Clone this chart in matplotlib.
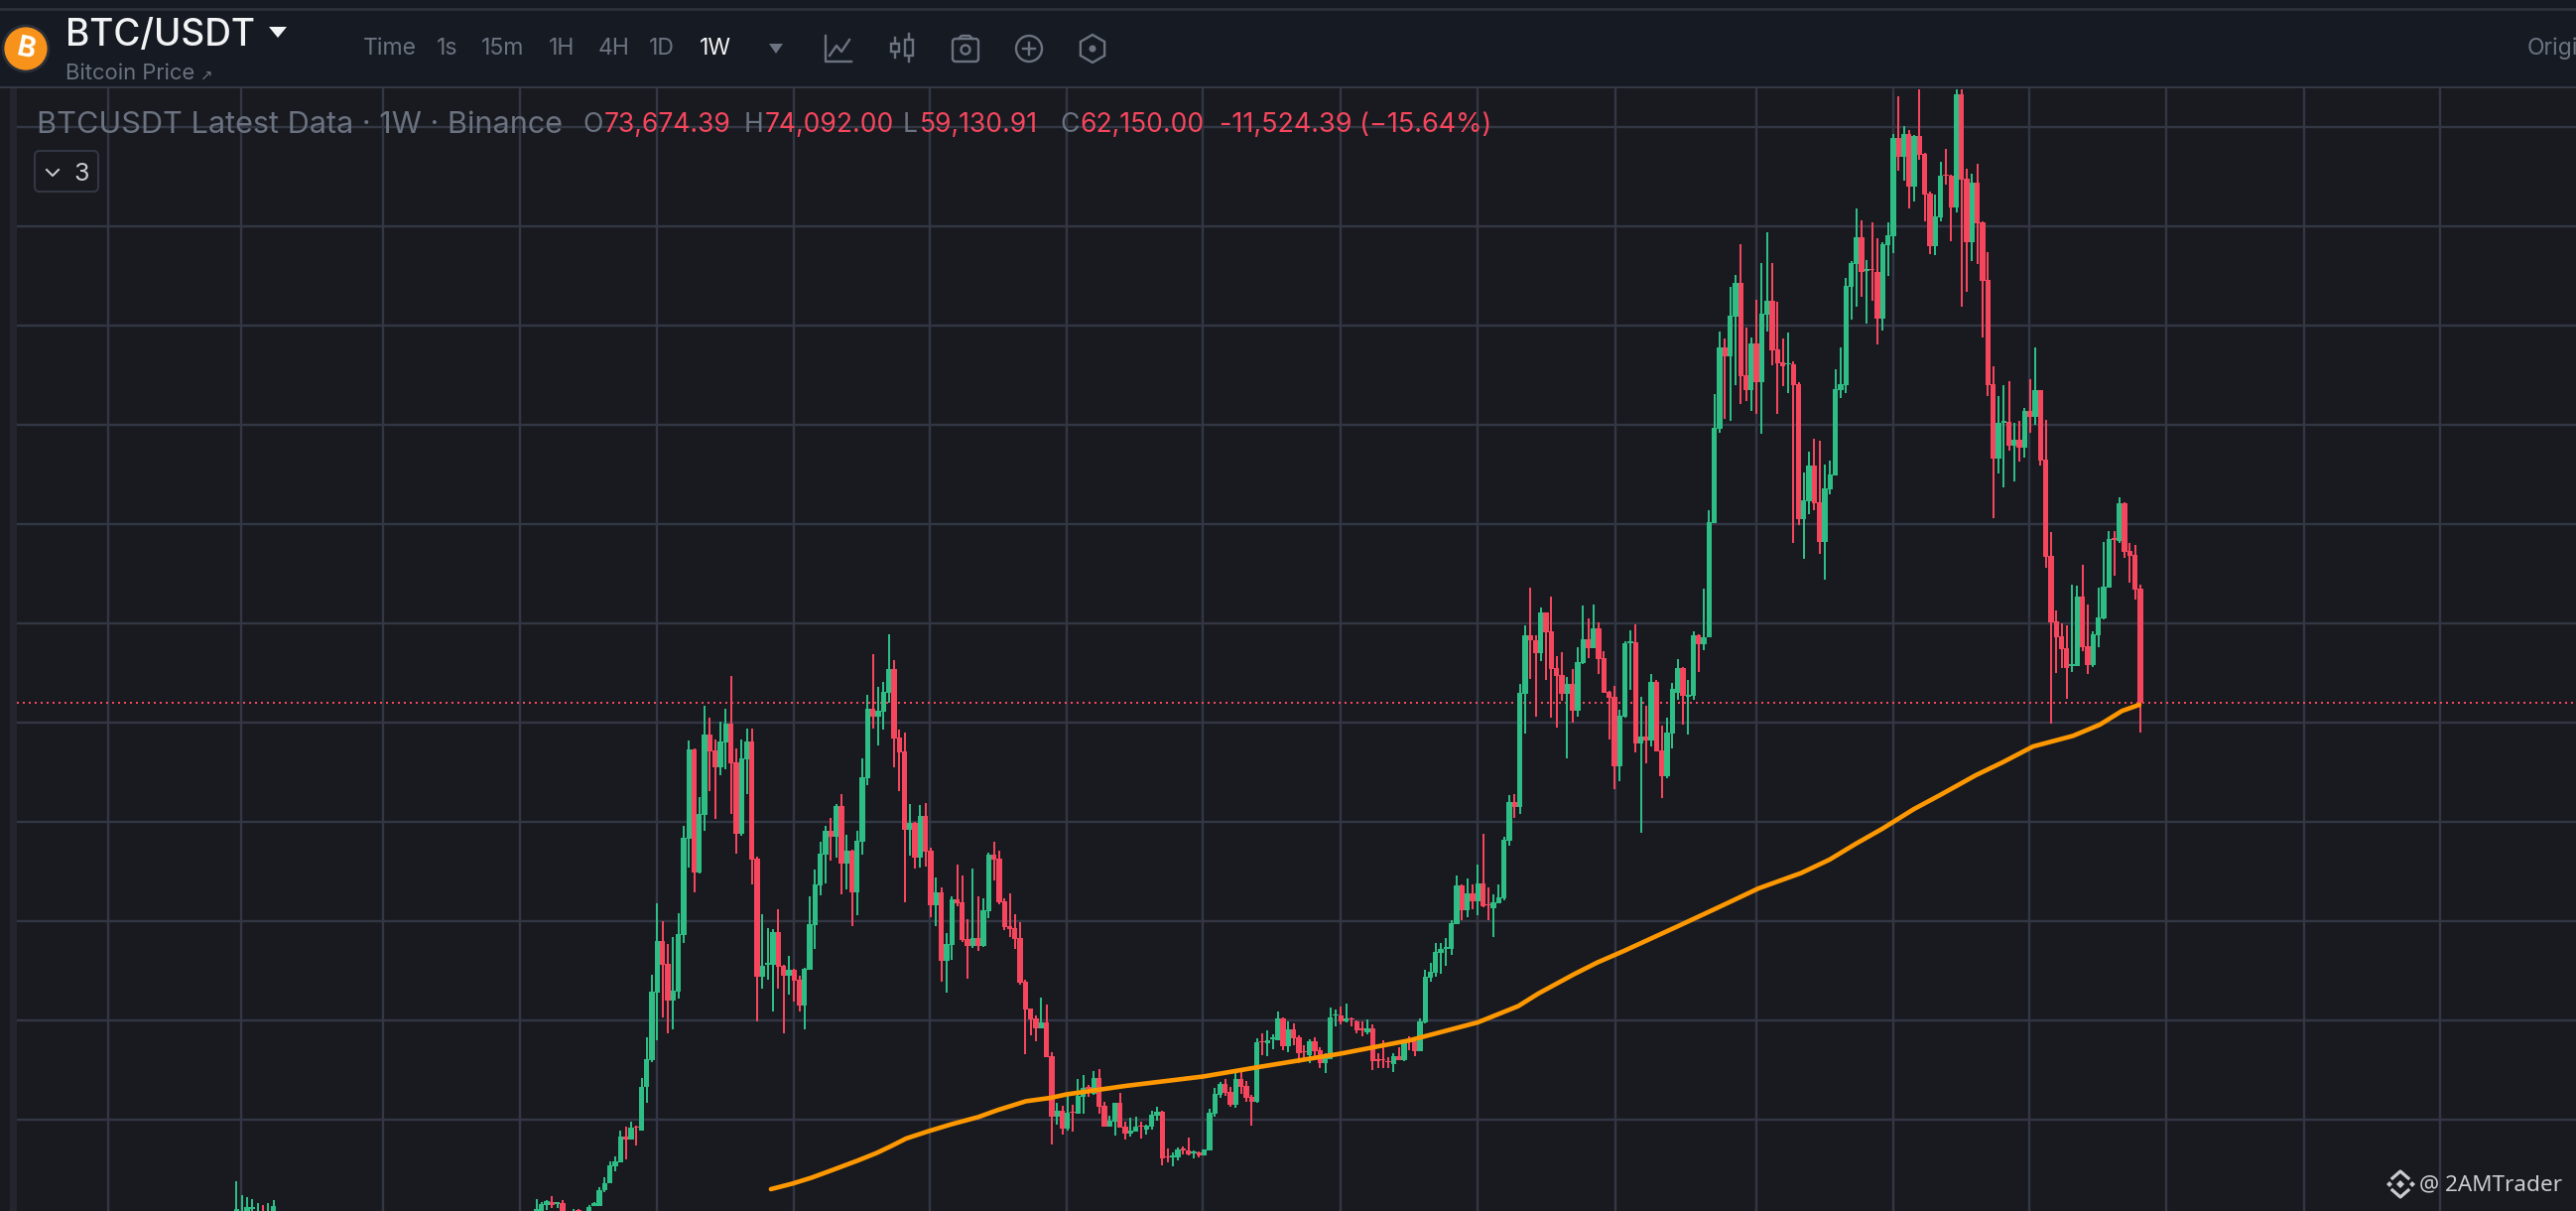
import matplotlib
matplotlib.use("Agg")
import matplotlib.pyplot as plt
import numpy as np
from matplotlib.patches import Circle, FancyBboxPatch, Polygon, Rectangle, RegularPolygon

nan = float("nan")

# Price levels are in chart-height units: the unlabelled price grid sits at every 100.
opens = [
    2,5,14,17,15,16,nan,0,9,nan, 5,13,13,29,36,53,57,83,80,93,
    89,133,160,228,280,257,220,229,286,383, 473,349,407,488,472,455,480,499,460,388,
    463,481,363,244,256,256,289,255,245,251, 241,215,251,296,336,367,391,385,416,358,
    371,329,380,444,514,506,511,530,554,485, 471,392,399,364,406,371,316,329,260,276,
    322,319,282,275,283,275,310,367,363,320, 295,293,283,239,212,202,192,198,164,103,
    109,91,108,106,123,133,126,142,114,93, 98,117,93,86,88,94,90,93,104,108,
    63,62,62,71,69,66,67,64,69,106, 125,136,128,115,141,134,123,118,179,177,
    181,180,202,174,191,183,169,165,179,170, 157,161,205,205,199,202,199,192,188,192,
    161,161,159,156,164,160,180,179,169,198, 243,248,268,272,272,297,336,311,328,320,
    338,317,313,318,323,381,420,415,529,588, 583,570,611,592,555,548,529,539,512,560,
    584,575,595,565,531,526,456,506,580,581, 479,486,482,541,472,446,489,530,555,526,
    527,588,579,586,701,796,878,869,909,943, 850,835,882,843,911,925,876,863,861,861,
    841,705,723,759,722,682,735,749,835,840, 939,962,989,955,957,954,907,981,990,1089,
    1070,1093,1040,1091,1073,1033,980,1009,1052,1051, 1019,1133,1048,984,1044,1004,946,841,766,802,
    803,779,785,777,814,808,835,765,668,602, 587,575,557,557,627,577,558,588,605,636,
    686,683,721,673,669,635,
]
highs = [
    20,17,19,23,17,19,nan,10,10,nan, 14,17,32,42,58,63,89,93,98,94,
    142,183,246,318,300,277,284,308,396,482, 474,425,517,505,483,501,514,547,474,483,
    494,494,365,307,293,292,312,256,265,252, 245,253,325,352,380,396,404,418,428,387,
    372,391,464,528,569,536,541,589,563,493, 490,418,400,417,419,374,344,334,288,325,
    357,346,302,353,325,323,369,380,371,323, 328,307,299,241,212,205,223,216,168,117,
    114,124,115,141,145,135,149,151,118,104, 117,127,98,102,103,98,95,109,113,109,
    71,67,72,73,82,69,68,70,111,132, 138,141,133,151,151,139,125,182,187,190,
    186,209,203,199,197,185,175,181,183,173, 167,213,211,214,217,203,200,199,201,196,
    167,180,163,167,173,179,184,183,202,251, 258,278,278,283,301,346,337,343,337,357,
    388,334,327,337,385,427,428,539,598,636, 588,616,611,627,567,571,546,554,576,618,
    605,619,601,572,532,537,513,582,593,599, 526,517,549,543,497,505,540,564,556,543,
    592,589,635,714,831,894,887,939,951,982, 898,888,926,963,994,963,924,887,893,864,
    843,752,773,786,784,760,764,856,878,948, 965,1018,1006,966,1004,988,984,1004,1093,1131,
    1101,1097,1092,1138,1074,1035,1032,1065,1078,1052, 1138,1138,1058,1053,1063,1005,974,859,829,840,
    844,802,804,817,846,878,835,805,692,613, 600,598,639,638,659,619,592,636,682,693,
    693,727,722,681,679,639,
]
lows = [
    0,2,9,11,11,0,nan,-5,0,nan, 3,13,13,27,36,48,57,60,80,74,
    89,117,158,180,203,187,191,222,278,354, 329,348,391,431,403,447,453,408,368,386,
    428,337,199,232,241,209,232,187,226,219, 209,191,251,272,326,338,361,364,327,332,
    295,306,367,437,494,477,493,520,455,431, 319,366,353,354,355,304,295,239,228,261,
    315,279,242,273,270,274,303,341,317,291, 284,272,236,166,185,179,192,163,75,95,
    85,89,88,106,106,123,125,106,93,93, 84,92,80,83,88,81,85,90,99,54,
    57,53,59,65,64,61,62,64,69,103, 122,124,113,112,126,118,94,117,165,164,
    171,180,170,168,175,157,162,157,164,152, 147,161,194,196,198,194,187,184,186,150,
    152,152,152,148,160,159,170,164,169,197, 239,244,247,255,266,297,301,304,312,306,
    314,301,284,318,321,376,404,408,489,544, 506,562,543,505,495,522,464,500,506,559,
    565,575,549,530,483,433,441,505,533,470, 389,459,476,471,424,444,474,523,498,488,
    523,551,573,586,701,792,806,804,840,821, 824,814,811,791,894,860,811,839,832,681,
    699,665,710,714,670,644,730,749,827,832, 906,919,929,902,925,881,895,950,973,1056,
    1046,1018,1025,1067,1005,972,971,1005,1042,985, 1014,919,934,965,962,888,829,706,751,737,
    774,743,763,767,792,800,759,656,499,550, 555,524,551,557,572,549,556,576,604,636,
    648,681,666,641,624,490,
]
closes = [
    10,15,18,14,17,4,nan,5,3,nan, 12,16,29,36,54,58,83,80,92,92,
    133,161,229,280,256,220,230,287,384,473, 349,408,488,471,455,481,499,459,388,464,
    481,362,244,255,258,289,254,245,251,240, 215,252,297,337,368,391,385,416,358,371,
    329,381,445,514,506,512,531,554,484,470, 392,399,364,406,370,316,329,260,277,322,
    318,281,275,283,275,311,367,362,319,294, 292,282,238,211,201,192,198,163,103,109,
    91,107,107,124,132,131,142,113,93,99, 117,92,86,89,93,93,94,105,108,61,
    62,64,70,69,65,68,64,70,107,126, 136,127,115,141,133,122,118,178,178,180,
    183,202,174,191,182,167,168,179,169,157, 162,203,206,199,202,201,190,190,192,159,
    159,160,158,164,160,179,178,169,199,244, 249,269,272,274,298,336,311,328,320,338,
    315,316,319,324,382,420,415,530,588,583, 570,611,591,554,547,529,539,512,561,584,
    575,595,564,530,525,456,507,580,582,479, 486,482,541,471,446,490,534,555,527,528,
    588,579,586,702,797,878,869,910,943,849, 835,882,843,912,925,875,862,859,862,840,
    705,724,759,721,682,736,750,836,841,940, 963,989,954,957,956,907,982,991,1089,1070,
    1093,1040,1091,1072,1032,980,1010,1051,1051,1019, 1133,1047,984,1044,1003,945,840,766,802,804,
    779,785,777,814,808,835,764,667,601,586, 574,555,559,627,576,558,589,606,637,685,
    684,721,672,668,634,520,
]

# Earliest candles, barely peeking over the bottom edge
early_weeks = [-362,-361,-360,-359,-358,-357,-356,-355]
early_opens = [0,0,5,10,5,5,0,0]
early_highs = [38,24,22,20,16,14,16,19]
early_lows = [-8,-8,0,2,0,-5,-5,-5]
early_closes = [10,6,12,12,8,2,6,13]

# 200-week average
ma_weeks = [-260.4,-256.3,-252.7,-249.1,-244,-240.4,-237.5,-234.7,-230.2,-226,-221,-217.4,
            -211.9,-207.2,-204.2,-193,-178.2,-167.7,-152.1,-138.9,-126,-118.3,-114.5,-107.6,
            -103.2,-98.2,-88.1,-80.6,-72.6,-64.5,-59.1,-54.1,-49.1,-43.1,-38.1,-31.3,-26.2,
            -20.4,-12.8,-7.7,-3.5,-0.2]
ma_values = [30,35.6,41.5,48.5,58.6,66.2,73.5,81,88.8,95.5,102.6,109.5,118.6,122,125.5,134,
             143.5,153,166.5,180,198,214.4,227,246.8,258.5,270,294.5,313,333,348.5,362,378,
             393,412.8,427,447,460,476,486.7,498,511.8,518]

grid_weeks = [-386.4,-361.1,-334.2,-308.1,-282.1,-256,-230.2,-204.2,-178.3,-152.1,-126,
              -99.8,-73,-47,-21.1,4.9,31.1,57]
grid_levels = [100,200,300,400,500,600,700,800,900,1000,1100]

intervals = ["Time", "1s", "15m", "1H", "4H", "1D", "1W"]

BG = "#181A20"
HEADER = "#161A22"
GRID = "#333744"
GREEN = "#2EBD85"
RED = "#F6465D"
ORANGE = "#FF9800"
GREY = "#6B7280"
FONT = "Inter"

W, H = 2596, 1220
fig = plt.figure(figsize=(W / 100, H / 100), dpi=100, facecolor=BG)
px = 0.72  # points per pixel at this dpi

# ---- chart
LEFT, TOP = 17, 88
WEEK_PX, LAST_PX = 5.3, 2157
ax = fig.add_axes([LEFT / W, 0, 1 - LEFT / W, 1 - TOP / H], facecolor=BG)
ax.set_xlim((LEFT - LAST_PX) / WEEK_PX, (W - LAST_PX) / WEEK_PX)
ax.set_ylim(8, 1140)
ax.set_xticks(grid_weeks)
ax.set_yticks(grid_levels)
ax.tick_params(length=0, labelbottom=False, labelleft=False)
ax.grid(True, color=GRID, lw=2.4 * px)
ax.set_axisbelow(True)
for s in ax.spines.values():
    s.set_visible(False)


def candles(weeks, o, h, l, c):
    weeks, o, h, l, c = map(lambda a: np.asarray(a, float), (weeks, o, h, l, c))
    up = c >= o
    down = c < o
    for mask, col in ((up, GREEN), (down, RED)):
        ax.vlines(weeks[mask], l[mask], h[mask], color=col, lw=2 * px, zorder=3)
        ax.bar(weeks[mask], (c - o)[mask], bottom=o[mask], width=1.0, color=col, lw=0, zorder=3)


ax.axhline(closes[-1], color=RED, lw=2 * px, ls=(0, (1, 2)), zorder=2.5)
candles(early_weeks, early_opens, early_highs, early_lows, early_closes)
candles(np.arange(-len(opens) + 1, 1), opens, highs, lows, closes)
ax.plot(ma_weeks, ma_values, color=ORANGE, lw=4.6 * px, solid_capstyle="round", zorder=4)

# ---- page furniture drawn in pixel coordinates
d = fig.add_axes([0, 0, 1, 1], facecolor="none")
d.set_xlim(0, W)
d.set_ylim(H, 0)
d.axis("off")
d.add_patch(Rectangle((0, 0), W, 88, color=HEADER, lw=0))
d.add_patch(Rectangle((0, 8), W, 3, color="#2B2F3A", lw=0))
d.add_patch(Rectangle((0, 87), W, 2, color="#333744", lw=0))
d.add_patch(Rectangle((10, 89), 7, H - 89, color="#23262E", lw=0))

d.add_patch(Circle((26, 49), 23, fc="#F7931A", ec="#2B2F3A", lw=2))
d.text(26, 50, "B", color="white", fontsize=28 * px, fontweight="bold", family=FONT,
       ha="center", va="center", rotation=-12)

d.text(66, 36, "BTC/USDT", color="#F2F3F5", fontsize=37 * px, family=FONT, va="center", fontweight="medium")
d.add_patch(Polygon([(271, 27), (289, 27), (280, 38)], color="#F2F3F5", lw=0))
d.text(66, 74, "Bitcoin Price", color=GREY, fontsize=22 * px, family=FONT, va="center")
d.text(202, 76, "↗", color=GREY, fontsize=15 * px, family="DejaVu Sans", va="center")

for lab, x in zip(intervals, [366, 440, 485, 553, 603, 654, 705]):
    d.text(x, 49, lab, color="#F2F3F5" if lab == "1W" else GREY, fontsize=23 * px, family=FONT, va="center")
d.add_patch(Polygon([(775, 44), (789, 44), (782, 54)], color=GREY, lw=0))
d.text(2547, 49, "Origi", color=GREY, fontsize=23 * px, family=FONT, va="center", clip_on=True)

IC = GREY
lw = 2.4 * px
# line-chart icon
d.plot([832, 832, 858], [36, 62, 62], color=IC, lw=lw)
d.plot([836, 843, 848, 856], [56, 46, 52, 40], color=IC, lw=lw)
# candle icon
for x, t, b in ((902, 38, 58), (916, 34, 62)):
    d.plot([x, x], [t, b], color=IC, lw=lw)
    d.add_patch(Rectangle((x - 4, t + 6), 8, b - t - 12, fc=HEADER, ec=IC, lw=lw, zorder=3))
# camera icon
d.add_patch(FancyBboxPatch((962, 41), 22, 19, boxstyle="round,pad=2,rounding_size=3", fc="none", ec=IC, lw=lw))
d.add_patch(Circle((973, 50), 4.5, fc="none", ec=IC, lw=lw))
d.plot([966, 969, 977, 980], [39, 36, 36, 39], color=IC, lw=lw)
# plus icon
d.add_patch(Circle((1037, 49), 13, fc="none", ec=IC, lw=lw))
d.plot([1031, 1043], [49, 49], color=IC, lw=lw)
d.plot([1037, 1037], [43, 55], color=IC, lw=lw)
# hexagon icon
d.add_patch(RegularPolygon((1101, 49), 6, radius=14, fc="none", ec=IC, lw=lw))
d.add_patch(Circle((1101, 49), 3.5, fc=IC, lw=0))

# ---- legend row
LY = 126
leg = 26.5 * px
d.text(37, LY, "BTCUSDT Latest Data · 1W · Binance", color=GREY, fontsize=30.6 * px, family=FONT, va="center")
for lab, x in (("O", 587), ("H", 750), ("L", 910), ("C", 1068)):
    d.text(x, LY, lab, color=GREY, fontsize=leg, family=FONT, va="center")
for val, x in (("73,674.39", 609), ("74,092.00", 771), ("59,130.91", 927), ("62,150.00", 1088)):
    d.text(x, LY, val, color=RED, fontsize=leg, family=FONT, va="center")
d.text(1229, LY, "-11,524.39 (−15.64%)", color=RED, fontsize=27 * px, family=FONT, va="center")

d.add_patch(FancyBboxPatch((35, 152), 64, 41, boxstyle="round,pad=0,rounding_size=5", fc=BG, ec=GRID, lw=2 * px))
d.plot([47, 53, 59], [171, 177, 171], color="#C9CCD3", lw=2 * px)
d.text(74, 175, "3", color="#C9CCD3", fontsize=25 * px, family=FONT, va="center")

# ---- watermark
WM = "#C9CBD0"
d.text(2438, 1194, "@ 2AMTrader", color=WM, fontsize=22.5 * px, family="Noto Sans", va="center")
for cx, cy, r in ((2419, 1193, 4), (2408, 1193, 3), (2431, 1193, 3)):
    d.add_patch(Polygon([(cx - r, cy), (cx, cy - r), (cx + r, cy), (cx, cy + r)], color=WM, lw=0))
d.plot([2411, 2419, 2427], [1187, 1180, 1187], color=WM, lw=3.2 * px)
d.plot([2411, 2419, 2427], [1199, 1206, 1199], color=WM, lw=3.2 * px)

fig.savefig("out.png", dpi=100, facecolor=BG)
